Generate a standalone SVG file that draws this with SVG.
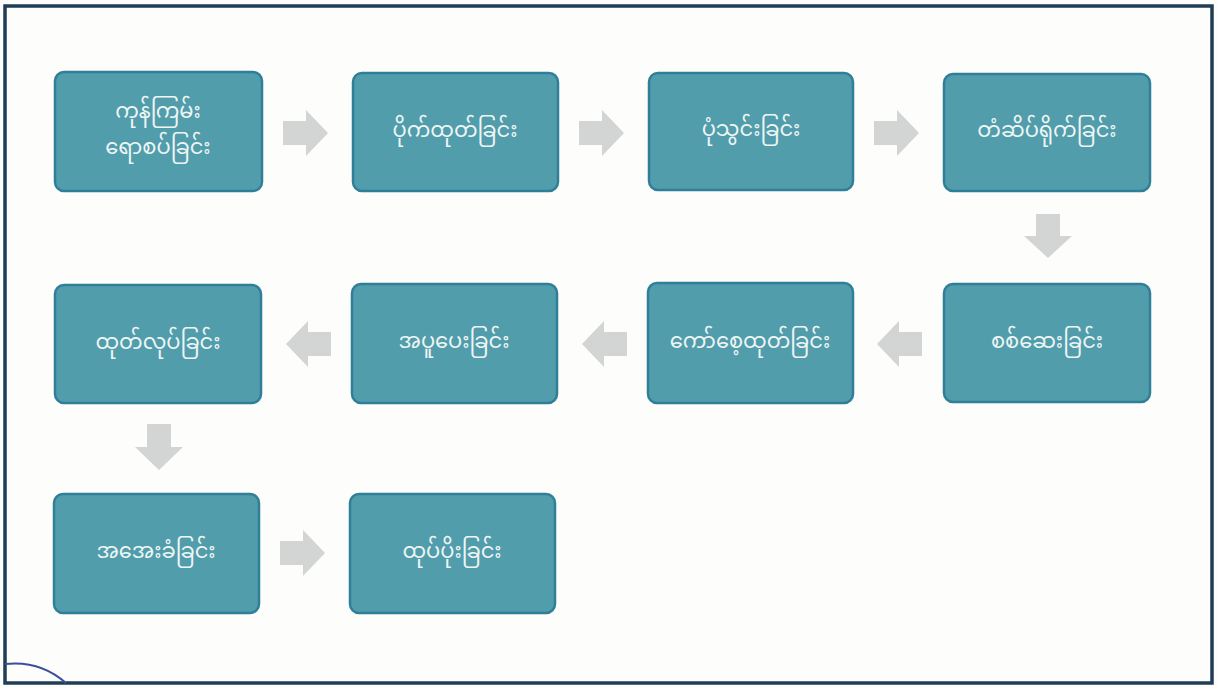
<svg xmlns="http://www.w3.org/2000/svg" width="1218" height="688" viewBox="0 0 1218 688">
<defs>
<style>
.box{fill:#519dac;stroke:#2f7f98;stroke-width:2.5}
.lbl{fill:#eef6f4;font-family:"Noto Sans Myanmar","Padauk","Myanmar Text","Noto Sans",sans-serif;font-size:21px;text-anchor:middle;dominant-baseline:central}
.arr{fill:#d3d5d5}
</style>
</defs>
<rect x="0" y="0" width="1218" height="688" fill="#fdfdfb"/>
<rect x="5" y="6" width="1207" height="677" fill="none" stroke="#1f3d57" stroke-width="3.5"/>
<path d="M5 664 Q40 660 66 683" fill="none" stroke="#3a4f9a" stroke-width="2"/>
<g id="connectors">
<polygon class="arr" points="283,121 306,121 306,110 328,133 306,156 306,145 283,145"/>
<polygon class="arr" points="579,121 602,121 602,110 624,133 602,156 602,145 579,145"/>
<polygon class="arr" points="874,121 897,121 897,110 919,133 897,156 897,145 874,145"/>
<polygon class="arr" points="1036,214 1060,214 1060,236 1072,236 1048,258 1024,236 1036,236"/>
<polygon class="arr" points="922,332 899,332 899,321 877,344 899,367 899,356 922,356"/>
<polygon class="arr" points="627,332 604,332 604,321 582,344 604,367 604,356 627,356"/>
<polygon class="arr" points="331,332 308,332 308,321 286,344 308,367 308,356 331,356"/>
<polygon class="arr" points="147,424 171,424 171,447 183,447 159,470 135,447 147,447"/>
<polygon class="arr" points="280,541 303,541 303,530 325,553 303,576 303,565 280,565"/>
</g>
<g id="n1"><rect class="box" x="55" y="72" width="207" height="119" rx="9"/><text class="lbl" x="158" y="113"><tspan x="158" y="113">ကုန်ကြမ်း</tspan><tspan x="158" y="149">ရောစပ်ခြင်း</tspan></text></g>
<g id="n2"><rect class="box" x="353" y="73" width="205" height="118" rx="9"/><text class="lbl" x="455" y="132">ပိုက်ထုတ်ခြင်း</text></g>
<g id="n3"><rect class="box" x="649" y="73" width="204" height="117" rx="9"/><text class="lbl" x="751" y="131">ပုံသွင်းခြင်း</text></g>
<g id="n4"><rect class="box" x="944" y="74" width="206" height="117" rx="9"/><text class="lbl" x="1047" y="132">တံဆိပ်ရိုက်ခြင်း</text></g>
<g id="n5"><rect class="box" x="944" y="284" width="206" height="118" rx="9"/><text class="lbl" x="1047" y="343">စစ်ဆေးခြင်း</text></g>
<g id="n6"><rect class="box" x="648" y="283" width="205" height="120" rx="9"/><text class="lbl" x="750" y="343">ကော်စေ့ထုတ်ခြင်း</text></g>
<g id="n7"><rect class="box" x="352" y="284" width="205" height="119" rx="9"/><text class="lbl" x="454" y="343">အပူပေးခြင်း</text></g>
<g id="n8"><rect class="box" x="55" y="285" width="206" height="118" rx="9"/><text class="lbl" x="158" y="344">ထုတ်လုပ်ခြင်း</text></g>
<g id="n9"><rect class="box" x="54" y="494" width="205" height="119" rx="9"/><text class="lbl" x="156" y="553">အအေးခံခြင်း</text></g>
<g id="n10"><rect class="box" x="350" y="494" width="205" height="119" rx="9"/><text class="lbl" x="452" y="553">ထုပ်ပိုးခြင်း</text></g>
</svg>
